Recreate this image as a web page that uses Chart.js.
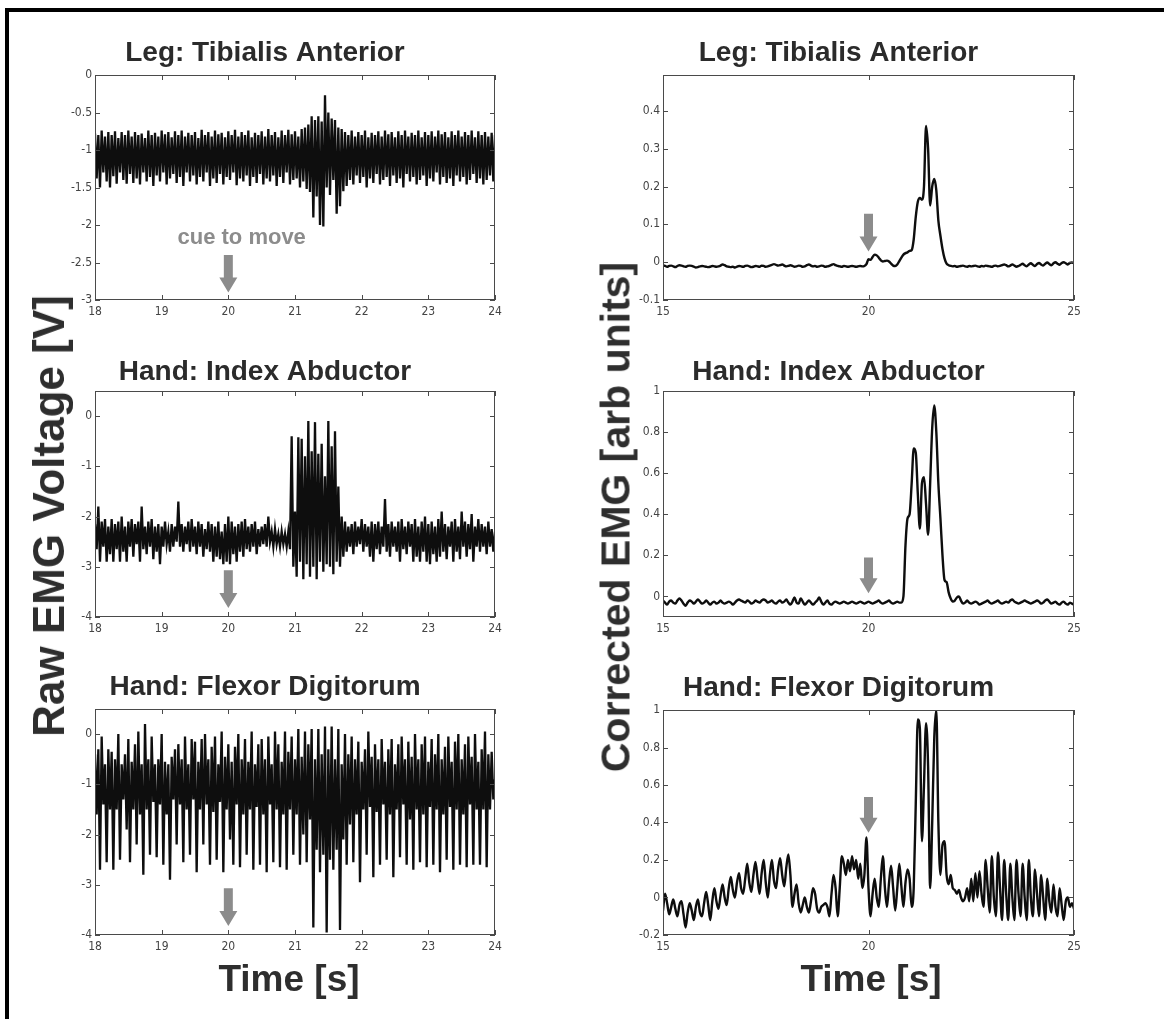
<!DOCTYPE html>
<html>
<head>
<meta charset="utf-8">
<script src="https://cdn.jsdelivr.net/npm/chart.js@4.4.1/dist/chart.umd.min.js"></script>
<style>
  body { margin: 0; background: #fff; width: 1164px; height: 1019px; position: relative; overflow: hidden; font-family: Arial, 'Liberation Sans', sans-serif; }
  #frame { position: absolute; left: 5px; top: 8px; right: 0; bottom: 0; border-left: 4px solid #000; border-top: 4px solid #000; }
  canvas { position: absolute; }
  .lab { position: absolute; font-weight: bold; color: #2e2e2e; white-space: nowrap; line-height: 1; transform: translate(-50%, -50%); }
  .rot { transform: translate(-50%, -50%) rotate(-90deg); }
</style>
</head>
<body>
<div id="frame"></div>
<canvas id="rawTa"></canvas>
<canvas id="corrTa"></canvas>
<canvas id="rawIa"></canvas>
<canvas id="corrIa"></canvas>
<canvas id="rawFd"></canvas>
<canvas id="corrFd"></canvas>
<div class="lab rot" style="left:49px;top:516px;font-size:44px">Raw EMG Voltage [V]</div>
<div class="lab rot" style="left:616px;top:517px;font-size:41px">Corrected EMG [arb units]</div>
<div class="lab" style="left:289px;top:978px;font-size:37px">Time [s]</div>
<div class="lab" style="left:871px;top:978px;font-size:37px">Time [s]</div>
<script>
// sampling of the traces (seconds)
const rawStart = 18, rawStep = 0.025;
const corrStart = 15, corrStep = 0.05;

const rawTicksX = [18, 19, 20, 21, 22, 23, 24];
const corrTicksX = [15, 20, 25];

const titles = ['Leg: Tibialis Anterior', 'Hand: Index Abductor', 'Hand: Flexor Digitorum'];

// raw EMG voltage [V], 18..24 s
const rawTibialis = [
  -0.78,-1.38,-0.8,-1.5,-0.74,-1.3,-0.82,-1.42,-0.76,-1.5,
  -0.8,-1.35,-0.75,-1.45,-0.84,-1.3,-0.76,-1.4,-0.8,-1.45,
  -0.74,-1.32,-0.82,-1.44,-0.76,-1.38,-0.8,-1.46,-0.78,-1.3,
  -0.84,-1.42,-0.74,-1.36,-0.8,-1.48,-0.77,-1.34,-0.82,-1.42,
  -0.74,-1.3,-0.79,-1.46,-0.76,-1.38,-0.83,-1.32,-0.75,-1.44,
  -0.8,-1.36,-0.74,-1.48,-0.82,-1.3,-0.77,-1.42,-0.8,-1.34,
  -0.76,-1.46,-0.84,-1.36,-0.73,-1.42,-0.8,-1.3,-0.76,-1.48,
  -0.82,-1.38,-0.74,-1.44,-0.79,-1.32,-0.77,-1.46,-0.83,-1.36,
  -0.75,-1.4,-0.8,-1.3,-0.73,-1.47,-0.82,-1.38,-0.76,-1.42,
  -0.8,-1.34,-0.74,-1.48,-0.83,-1.36,-0.77,-1.44,-0.8,-1.32,
  -0.75,-1.46,-0.82,-1.38,-0.72,-1.42,-0.8,-1.34,-0.76,-1.48,
  -0.83,-1.36,-0.74,-1.44,-0.8,-1.3,-0.73,-1.46,-0.79,-1.4,
  -0.75,-1.38,-0.82,-1.5,-0.72,-1.42,-0.7,-1.52,-0.66,-1.56,
  -0.55,-1.9,-0.6,-1.62,-0.55,-2.0,-0.62,-2.02,-0.27,-1.5,
  -0.5,-1.6,-0.58,-1.4,-0.6,-1.85,-0.7,-1.75,-0.72,-1.55,
  -0.76,-1.48,-0.8,-1.4,-0.74,-1.46,-0.82,-1.34,-0.76,-1.44,
  -0.8,-1.36,-0.74,-1.5,-0.83,-1.38,-0.77,-1.44,-0.8,-1.32,
  -0.75,-1.46,-0.82,-1.4,-0.74,-1.36,-0.79,-1.48,-0.76,-1.34,
  -0.83,-1.44,-0.75,-1.38,-0.8,-1.5,-0.74,-1.32,-0.82,-1.42,
  -0.77,-1.36,-0.8,-1.46,-0.74,-1.4,-0.83,-1.34,-0.76,-1.48,
  -0.8,-1.38,-0.75,-1.42,-0.82,-1.3,-0.74,-1.46,-0.79,-1.36,
  -0.76,-1.44,-0.83,-1.38,-0.75,-1.48,-0.8,-1.34,-0.74,-1.42,
  -0.82,-1.36,-0.76,-1.46,-0.8,-1.4,-0.74,-1.32,-0.83,-1.44,
  -0.75,-1.38,-0.8,-1.46,-0.76,-1.4,-0.82,-1.34,-0.77,-1.42,-0.8
];

const rawIndexAbductor = [
  -2.15,-2.65,-1.8,-2.9,-2.1,-2.6,-2.05,-2.9,-2.2,-2.75,
  -2.05,-2.9,-2.15,-2.65,-2.1,-2.9,-2.0,-2.7,-2.2,-2.9,
  -2.1,-2.6,-2.05,-2.8,-2.15,-2.55,-2.1,-2.9,-1.8,-2.65,
  -2.2,-2.75,-2.1,-2.6,-2.05,-2.85,-2.2,-2.7,-2.15,-2.95,
  -2.2,-2.6,-2.1,-2.55,-2.3,-2.7,-2.15,-2.6,-2.2,-2.5,
  -1.7,-2.6,-2.15,-2.7,-2.2,-2.55,-2.1,-2.7,-2.05,-2.6,
  -2.2,-2.75,-2.1,-2.6,-2.15,-2.8,-2.25,-2.65,-2.1,-2.7,
  -2.15,-2.9,-2.2,-2.8,-2.1,-2.85,-2.3,-2.95,-2.15,-2.9,
  -2.0,-2.95,-2.1,-2.75,-2.2,-2.9,-2.15,-2.7,-2.1,-2.8,
  -2.05,-2.65,-2.2,-2.7,-2.15,-2.6,-2.1,-2.75,-2.25,-2.6,
  -2.2,-2.55,-2.15,-2.6,-2.0,-2.5,-2.3,-2.6,-2.25,-2.55,
  -2.35,-2.6,-2.3,-2.55,-2.35,-2.6,-2.3,-2.65,-0.4,-3.0,
  -1.9,-3.2,-0.42,-2.9,-0.45,-3.25,-0.8,-2.95,-0.1,-3.2,
  -0.7,-3.0,-0.12,-3.25,-0.75,-2.9,-0.55,-3.1,-1.2,-2.95,
  -0.1,-3.0,-0.6,-3.15,-0.3,-2.9,-1.4,-3.0,-2.0,-2.8,
  -2.1,-2.7,-2.2,-2.6,-2.15,-2.75,-2.1,-2.6,-2.2,-2.55,
  -2.05,-2.7,-2.15,-2.6,-2.2,-2.8,-2.1,-2.9,-2.15,-2.65,
  -2.1,-2.75,-2.2,-2.6,-1.65,-2.7,-2.15,-2.8,-2.1,-2.6,
  -2.2,-2.7,-2.1,-2.9,-2.05,-2.65,-2.2,-2.75,-2.1,-2.6,
  -2.15,-2.9,-2.05,-2.8,-2.2,-2.9,-2.1,-2.7,-2.0,-2.9,
  -2.15,-2.95,-2.1,-2.75,-2.2,-2.9,-2.05,-2.8,-1.9,-2.7,
  -2.15,-2.85,-2.2,-2.6,-2.1,-2.9,-2.05,-2.7,-2.2,-2.85,
  -1.9,-2.6,-2.1,-2.8,-2.15,-2.65,-1.95,-2.9,-2.2,-2.6,
  -2.05,-2.7,-2.15,-2.6,-2.2,-2.75,-2.1,-2.6,-2.25,-2.7,-2.3
];

const rawFlexor = [
  -0.4,-1.6,-0.3,-2.7,-0.05,-1.4,-0.6,-2.55,-0.3,-1.5,
  -0.35,-2.7,-0.5,-1.5,0.0,-2.5,-0.6,-1.3,-0.4,-1.9,
  -0.1,-2.55,-0.55,-1.5,-0.2,-2.2,0.05,-1.6,-0.6,-2.8,
  0.2,-1.5,-0.5,-2.4,-0.05,-1.35,-0.6,-2.45,-0.5,-1.4,
  0.0,-2.6,-0.55,-1.6,-0.6,-2.9,-0.45,-1.3,-0.3,-2.2,
  -0.2,-1.4,-0.5,-2.55,-0.05,-1.5,-0.6,-2.4,-0.1,-1.3,
  -0.15,-2.75,-0.55,-1.5,-0.1,-2.2,0.0,-1.4,-0.5,-2.6,
  -0.25,-1.55,-0.05,-2.5,-0.6,-1.35,0.05,-2.75,-0.45,-1.5,
  -0.2,-2.1,-0.55,-2.6,-0.25,-1.4,0.0,-2.65,-0.5,-1.6,
  -0.1,-2.4,-0.55,-1.5,0.05,-2.7,-0.6,-1.45,-0.2,-2.6,
  -0.1,-1.6,-0.5,-2.75,-0.05,-1.4,-0.6,-2.55,0.05,-1.5,
  -0.2,-2.65,-0.55,-1.6,0.05,-2.7,-0.35,-1.5,-0.05,-2.4,
  -0.5,-1.6,0.1,-2.6,-0.45,-2.0,0.05,-2.55,-0.2,-1.7,
  0.1,-3.85,-0.5,-2.3,0.1,-2.75,-0.4,-2.4,0.15,-3.95,
  -0.3,-2.5,0.15,-2.7,-0.5,-2.3,0.1,-3.9,-0.6,-2.1,
  0.0,-2.6,-0.4,-1.8,-0.05,-2.55,-0.5,-1.6,-0.15,-2.95,
  -0.55,-1.5,-0.3,-2.4,0.05,-1.45,-0.45,-2.85,-0.2,-1.55,
  -0.5,-2.6,-0.1,-1.4,-0.55,-2.5,-0.3,-1.6,-0.1,-2.85,
  -0.6,-1.5,-0.2,-2.45,-0.05,-1.4,-0.5,-2.6,-0.15,-1.7,
  -0.45,-2.7,0.0,-1.5,-0.5,-2.55,-0.2,-1.6,-0.05,-2.65,
  -0.55,-1.45,-0.1,-2.6,-0.4,-1.5,0.0,-2.75,-0.5,-1.6,
  -0.25,-2.5,-0.05,-1.45,-0.55,-2.7,-0.15,-1.5,0.0,-2.6,
  -0.5,-1.6,-0.2,-2.65,-0.05,-1.4,-0.45,-2.6,0.0,-1.5,
  -0.55,-2.6,-0.3,-1.5,0.05,-2.65,-0.4,-1.5,-0.35,-1.3,-0.9
];

// corrected EMG [arb units], 15..25 s
const corrTibialis = [
  -0.008,-0.01,-0.012,-0.01,-0.009,-0.011,-0.013,-0.01,-0.008,-0.009,
  -0.011,-0.012,-0.01,-0.009,-0.01,-0.012,-0.014,-0.013,-0.011,-0.01,
  -0.011,-0.012,-0.013,-0.012,-0.01,-0.011,-0.012,-0.011,-0.009,-0.006,
  -0.008,-0.011,-0.012,-0.013,-0.012,-0.014,-0.012,-0.01,-0.011,-0.012,
  -0.01,-0.009,-0.011,-0.013,-0.012,-0.01,-0.011,-0.012,-0.009,-0.01,
  -0.012,-0.011,-0.009,-0.007,-0.005,-0.007,-0.009,-0.008,-0.006,-0.009,
  -0.011,-0.01,-0.008,-0.01,-0.012,-0.011,-0.009,-0.01,-0.012,-0.011,
  -0.008,-0.006,-0.009,-0.011,-0.01,-0.012,-0.011,-0.009,-0.01,-0.012,
  -0.011,-0.01,-0.007,-0.005,-0.008,-0.01,-0.011,-0.012,-0.01,-0.011,
  -0.012,-0.011,-0.01,-0.011,-0.012,-0.011,-0.01,-0.011,-0.01,-0.005,
  0.008,0.006,0.014,0.02,0.018,0.012,0.005,0.002,0.003,0.004,
  0.002,-0.004,-0.009,-0.01,-0.006,0.003,0.012,0.02,0.024,0.026,
  0.03,0.032,0.06,0.12,0.16,0.17,0.165,0.2,0.36,0.3,
  0.15,0.2,0.22,0.19,0.11,0.07,0.035,0.01,-0.004,-0.008,
  -0.01,-0.011,-0.01,-0.012,-0.011,-0.01,-0.009,-0.011,-0.012,-0.01,
  -0.011,-0.01,-0.009,-0.011,-0.012,-0.01,-0.011,-0.009,-0.01,-0.011,
  -0.012,-0.01,-0.009,-0.011,-0.01,-0.008,-0.006,-0.008,-0.011,-0.009,
  -0.006,-0.009,-0.012,-0.01,-0.007,-0.004,-0.008,-0.011,-0.006,-0.003,
  -0.007,-0.01,-0.005,-0.002,-0.006,-0.009,-0.004,-0.001,-0.005,-0.008,
  -0.003,0.0,-0.004,-0.007,-0.002,0.0,-0.003,-0.006,-0.002,-0.001,-0.003
];

const corrIndexAbductor = [
  -0.02,-0.03,-0.04,-0.025,-0.02,-0.03,-0.035,-0.02,-0.01,-0.02,
  -0.035,-0.045,-0.03,-0.02,-0.025,-0.035,-0.025,-0.015,-0.025,-0.035,
  -0.03,-0.02,-0.03,-0.04,-0.03,-0.025,-0.035,-0.03,-0.02,-0.03,
  -0.035,-0.03,-0.025,-0.03,-0.04,-0.03,-0.02,-0.015,-0.02,-0.025,
  -0.03,-0.02,-0.025,-0.035,-0.03,-0.02,-0.025,-0.03,-0.02,-0.015,
  -0.02,-0.03,-0.025,-0.02,-0.03,-0.035,-0.025,-0.02,-0.03,-0.025,
  -0.015,-0.03,-0.04,-0.025,-0.005,-0.03,-0.035,-0.01,-0.025,-0.04,
  -0.03,-0.02,-0.03,-0.04,-0.03,-0.02,-0.005,-0.025,-0.04,-0.03,
  -0.02,-0.035,-0.04,-0.03,-0.025,-0.03,-0.035,-0.03,-0.025,-0.03,
  -0.035,-0.03,-0.025,-0.03,-0.035,-0.03,-0.025,-0.03,-0.035,-0.03,
  -0.025,-0.03,-0.035,-0.03,-0.025,-0.02,-0.03,-0.035,-0.03,-0.025,
  -0.02,-0.03,-0.035,-0.03,-0.025,-0.03,-0.03,0.0,0.25,0.38,
  0.4,0.55,0.72,0.7,0.5,0.33,0.55,0.58,0.45,0.3,
  0.55,0.82,0.93,0.8,0.55,0.38,0.2,0.08,0.07,0.02,
  -0.01,-0.025,-0.02,-0.005,0.0,-0.02,-0.035,-0.03,-0.02,-0.03,
  -0.035,-0.03,-0.025,-0.03,-0.04,-0.035,-0.03,-0.025,-0.02,-0.03,
  -0.035,-0.03,-0.025,-0.02,-0.03,-0.035,-0.03,-0.025,-0.03,-0.02,
  -0.015,-0.025,-0.03,-0.035,-0.03,-0.025,-0.02,-0.025,-0.03,-0.035,
  -0.03,-0.025,-0.02,-0.025,-0.035,-0.03,-0.02,-0.015,-0.025,-0.035,
  -0.03,-0.025,-0.035,-0.04,-0.03,-0.025,-0.035,-0.04,-0.03,-0.035,-0.04
];

const corrFlexor = [
  -0.07,0.02,-0.03,-0.09,-0.05,-0.01,-0.06,-0.1,-0.04,-0.02,
  -0.09,-0.16,-0.08,-0.03,-0.07,-0.12,-0.05,-0.01,-0.08,-0.1,
  -0.03,0.03,-0.04,-0.12,-0.02,0.05,-0.02,-0.06,0.01,0.07,
  0.0,-0.04,0.05,0.11,0.04,0.0,0.08,0.13,0.05,0.02,
  0.1,0.18,0.08,0.03,0.12,0.19,0.1,0.02,0.13,0.2,
  0.08,0.0,0.12,0.2,0.09,0.05,0.15,0.21,0.12,0.06,
  0.16,0.23,0.12,-0.05,0.02,0.07,-0.03,-0.08,-0.04,0.0,
  -0.05,-0.08,-0.02,0.05,0.02,-0.06,-0.08,-0.05,-0.04,-0.03,
  -0.05,-0.1,0.02,0.12,0.05,-0.1,0.05,0.22,0.18,0.12,
  0.2,0.14,0.22,0.15,0.2,0.1,0.18,0.05,0.12,0.32,
  0.05,-0.1,0.02,0.1,0.0,-0.05,0.1,0.22,0.05,-0.05,
  0.08,0.17,0.05,-0.07,0.05,0.18,0.06,-0.05,0.08,0.15,
  0.1,-0.05,0.05,0.5,0.95,0.9,0.3,0.6,0.93,0.7,
  0.05,0.4,0.85,1.0,0.4,0.12,0.28,0.3,0.12,0.07,
  0.12,0.05,0.04,0.02,0.04,0.0,-0.02,0.0,0.05,-0.02,
  0.1,-0.02,0.13,0.0,0.14,0.02,-0.05,0.2,0.05,-0.08,
  0.22,0.0,-0.1,0.24,0.05,-0.12,0.2,0.02,-0.12,0.18,
  0.0,-0.12,0.2,0.02,-0.1,0.18,0.0,-0.12,0.2,0.0,
  -0.1,0.15,0.02,-0.1,0.12,0.0,-0.12,0.1,-0.02,-0.08,
  0.07,-0.05,-0.1,0.05,-0.04,-0.12,-0.02,0.0,-0.05,-0.03,-0.06
];

// y tick labels and ranges per panel
const yTicksRawTa = [-3, -2.5, -2, -1.5, -1, -0.5, 0];
const yTicksRawHand = [-4, -3, -2, -1, 0];
const yTicksCorrTa = [-0.1, 0, 0.1, 0.2, 0.3, 0.4];
const yTicksCorrIa = [0, 0.2, 0.4, 0.6, 0.8, 1];
const yTicksCorrFd = [-0.2, 0, 0.2, 0.4, 0.6, 0.8, 1];

// cue arrows at 20 s: [shaft top, tip] in data units
const cueRawTa = [-2.4, -2.9];
const cueRawIa = [-3.07, -3.82];
const cueRawFd = [-3.07, -3.82];
const cueCorrTa = [0.128, 0.028];
const cueCorrIa = [0.19, 0.015];
const cueCorrFd = [0.536, 0.345];

const tickFont = { family: "'Liberation Sans Narrow', 'DejaVu Sans Condensed', Arial, sans-serif", size: 12 };

const boxTicks = {
  id: 'boxTicks',
  afterDatasetsDraw(chart) {
    const { ctx, chartArea: a, scales: { x, y } } = chart;
    ctx.save();
    ctx.strokeStyle = '#4a4a4a';
    ctx.lineWidth = 1;
    ctx.strokeRect(a.left + 0.5, a.top + 0.5, a.right - a.left - 1, a.bottom - a.top - 1);
    ctx.beginPath();
    x.ticks.forEach(t => {
      const px = Math.round(x.getPixelForValue(t.value)) + 0.5;
      ctx.moveTo(px, a.bottom); ctx.lineTo(px, a.bottom - 5);
      ctx.moveTo(px, a.top); ctx.lineTo(px, a.top + 5);
    });
    y.ticks.forEach(t => {
      const py = Math.round(y.getPixelForValue(t.value)) + 0.5;
      ctx.moveTo(a.left, py); ctx.lineTo(a.left + 5, py);
      ctx.moveTo(a.right, py); ctx.lineTo(a.right - 5, py);
    });
    ctx.stroke();
    ctx.restore();
  }
};

const cueArrow = {
  id: 'cueArrow',
  afterDatasetsDraw(chart, args, o) {
    if (!o || o.top == null) return;
    const { ctx, scales: { x, y } } = chart;
    const cx = x.getPixelForValue(20);
    const y0 = y.getPixelForValue(o.top), y1 = y.getPixelForValue(o.tip);
    const head = 15, shaft = 4.5, half = 9;
    ctx.save();
    ctx.fillStyle = '#8c8c8c';
    ctx.beginPath();
    ctx.moveTo(cx - shaft, y0);
    ctx.lineTo(cx + shaft, y0);
    ctx.lineTo(cx + shaft, y1 - head);
    ctx.lineTo(cx + half, y1 - head);
    ctx.lineTo(cx, y1);
    ctx.lineTo(cx - half, y1 - head);
    ctx.lineTo(cx - shaft, y1 - head);
    ctx.closePath();
    ctx.fill();
    if (o.text) {
      ctx.font = "bold 22px Arial, 'Liberation Sans', sans-serif";
      ctx.textAlign = 'center';
      ctx.textBaseline = 'alphabetic';
      ctx.fillText(o.text, x.getPixelForValue(o.textX), y.getPixelForValue(o.textY));
    }
    ctx.restore();
  }
};

function panel(id, box, p) {
  const padL = 60, padT = 45, padB = 24;
  const padR = 60 + 2 * p.shift;
  const cv = document.getElementById(id);
  cv.width = box[2] - box[0] + padL + padR;
  cv.height = box[3] - box[1] + padT + padB;
  cv.style.left = (box[0] - padL) + 'px';
  cv.style.top = (box[1] - padT) + 'px';
  const pts = p.values.map((v, i) => ({ x: p.start + i * p.step, y: v }));
  new Chart(cv, {
    type: 'line',
    data: { datasets: [{
      data: pts,
      borderColor: '#0e0e0e',
      borderWidth: p.lw,
      pointRadius: 0,
      tension: 0,
      borderJoinStyle: 'miter',
      cubicInterpolationMode: p.smooth ? 'monotone' : 'default'
    }] },
    plugins: [boxTicks, cueArrow],
    options: {
      responsive: false,
      animation: false,
      devicePixelRatio: 1,
      layout: { padding: { left: 0, right: padR, top: 0, bottom: 0 } },
      plugins: {
        legend: { display: false },
        tooltip: { enabled: false },
        title: {
          display: true,
          text: p.title,
          color: '#2b2b2b',
          font: { family: "Arial, 'Liberation Sans', sans-serif", size: 28, weight: 'bold', lineHeight: 1 },
          padding: { top: p.titleTop, bottom: padT - 28 - p.titleTop }
        },
        cueArrow: p.cue
      },
      scales: {
        x: {
          type: 'linear',
          min: p.xTicks[0],
          max: p.xTicks[p.xTicks.length - 1],
          afterBuildTicks: s => { s.ticks = p.xTicks.map(v => ({ value: v })); },
          afterFit: s => { s.height = padB; },
          grid: { display: false, drawTicks: false },
          border: { display: false },
          ticks: { color: '#444', font: tickFont, padding: 5, maxRotation: 0, callback: v => String(v) }
        },
        y: {
          min: p.yMin,
          max: p.yMax,
          afterBuildTicks: s => { s.ticks = p.yTicks.map(v => ({ value: v })); },
          afterFit: s => { s.width = padL; },
          grid: { display: false, drawTicks: false },
          border: { display: false },
          ticks: { color: '#444', font: tickFont, padding: 3, callback: v => String(v) }
        }
      }
    }
  });
}

panel('rawTa', [95, 75, 495, 300], {
  title: titles[0], titleTop: 9, shift: 6, values: rawTibialis, start: rawStart, step: rawStep, lw: 2.3,
  xTicks: rawTicksX, yTicks: yTicksRawTa, yMin: -3, yMax: 0,
  cue: { top: cueRawTa[0], tip: cueRawTa[1], text: 'cue to move', textX: 20.2, textY: -2.25 }
});
panel('corrTa', [663, 75, 1074, 300], {
  title: titles[0], titleTop: 9, shift: 6, values: corrTibialis, start: corrStart, step: corrStep, lw: 2.4, smooth: true,
  xTicks: corrTicksX, yTicks: yTicksCorrTa, yMin: -0.1, yMax: 0.495,
  cue: { top: cueCorrTa[0], tip: cueCorrTa[1] }
});
panel('rawIa', [95, 391, 495, 617], {
  title: titles[1], titleTop: 12, shift: 6, values: rawIndexAbductor, start: rawStart, step: rawStep, lw: 2.3,
  xTicks: rawTicksX, yTicks: yTicksRawHand, yMin: -4, yMax: 0.5,
  cue: { top: cueRawIa[0], tip: cueRawIa[1] }
});
panel('corrIa', [663, 391, 1074, 617], {
  title: titles[1], titleTop: 12, shift: 6, values: corrIndexAbductor, start: corrStart, step: corrStep, lw: 2.4, smooth: true,
  xTicks: corrTicksX, yTicks: yTicksCorrIa, yMin: -0.1, yMax: 1,
  cue: { top: cueCorrIa[0], tip: cueCorrIa[1] }
});
panel('rawFd', [95, 709, 495, 935], {
  title: titles[2], titleTop: 9, shift: -2, values: rawFlexor, start: rawStart, step: rawStep, lw: 2.3,
  xTicks: rawTicksX, yTicks: yTicksRawHand, yMin: -4, yMax: 0.5,
  cue: { top: cueRawFd[0], tip: cueRawFd[1] }
});
panel('corrFd', [663, 710, 1074, 935], {
  title: titles[2], titleTop: 9, shift: -1, values: corrFlexor, start: corrStart, step: corrStep, lw: 2.4, smooth: true,
  xTicks: corrTicksX, yTicks: yTicksCorrFd, yMin: -0.2, yMax: 1,
  cue: { top: cueCorrFd[0], tip: cueCorrFd[1] }
});
</script>
</body>
</html>
